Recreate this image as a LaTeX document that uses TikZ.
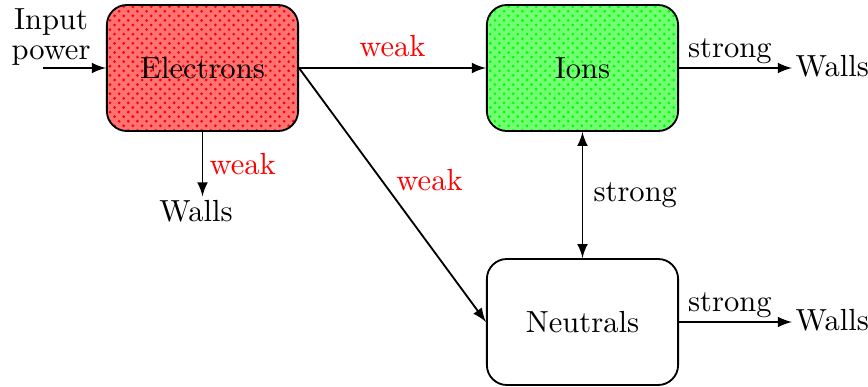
\documentclass[tikz,border=0pt]{standalone}
\usetikzlibrary{patterns}

\tikzset{
  species/.style={draw, semithick, rounded corners=0.23cm, minimum width=2.2cm, minimum height=1.45cm},
  wallnode/.style={inner sep=1pt, anchor=west},
  flow/.style={-latex, semithick},
  weaklbl/.style={text=red}
}

\begin{document}
\begin{tikzpicture}[x=0.0115cm, y=-0.0115cm]
\useasboundingbox (0,0) rectangle (868,387);

% species boxes
\node[species, preaction={fill=red!55}, pattern=crosshatch dots, pattern color=red] (el) at (202.5,68) {};
\node at (el) {Electrons};
\node[species, preaction={fill=green!55}, pattern=crosshatch dots, pattern color=green] (ion) at (582.5,68) {};
\node at (ion) {Ions};
\node[species] (neu) at (582.5,322) {Neutrals};

% input power
\node[align=center, inner sep=1pt] (inp) at (51,37) {Input\\[-2pt]power};
\coordinate (inpstart) at (43,68);
\draw[flow] (inpstart) -- (el.west);

% walls
\node[inner sep=1pt] (w1) at (196,211) {Walls};
\node[wallnode] (w2) at (792,66) {Walls};
\node[wallnode] (w3) at (792,320) {Walls};

% electron losses
\draw[flow] (el.south) -- (el.south |- w1.north)
  node[midway, right, inner sep=2pt, weaklbl] {weak};
\draw[flow] (el.east) -- (ion.west)
  node[midway, above, weaklbl] {weak};
\draw[flow] (el.east) -- (neu.west)
  node[midway, anchor=south west, inner sep=1pt, weaklbl] {weak};

% ions and neutrals
\draw[latex-latex, semithick] (ion.south) -- (neu.north)
  node[midway, right] {strong};
\draw[flow] (ion.east) -- (ion.east -| w2.west)
  node[pos=0.45, above, inner sep=1pt] {strong};
\draw[flow] (neu.east) -- (neu.east -| w3.west)
  node[pos=0.45, above, inner sep=1pt] {strong};

\end{tikzpicture}
\end{document}
